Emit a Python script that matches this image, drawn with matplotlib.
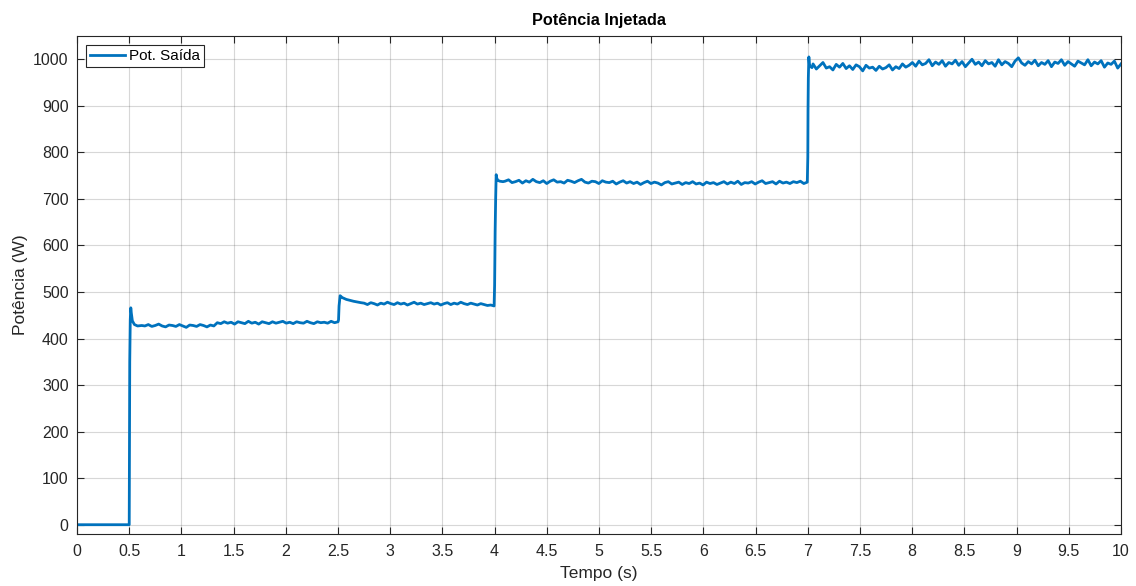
import numpy as np
import matplotlib

matplotlib.use("Agg")
import matplotlib.pyplot as plt
from matplotlib.ticker import FuncFormatter

# ---- data (W vs s) --------------------------------------------------------
t_start = [0.0, 0.5, 0.502, 0.505, 0.51, 0.515, 0.52, 0.53, 0.55, 0.58, 0.62]
p_start = [0, 0, 170, 350, 440, 466, 455, 438, 430, 427, 428]

# plateau 1 : 0.65 s -> 2.5 s
p_plat1 = [427, 430, 426, 428, 431, 427, 425, 429, 428, 426, 430, 427, 424,
           429, 428, 426, 430, 428, 425, 429, 427, 434, 432, 436, 433, 435,
           431, 436, 434, 432, 437, 433, 435, 431, 436, 434, 432, 436, 433,
           435, 437, 433, 435, 432, 436, 434, 433, 437, 434, 432, 436, 434,
           435, 433, 437, 434, 436]

t_step2 = [2.505, 2.51, 2.52, 2.54, 2.58, 2.65, 2.72]
p_step2 = [440, 470, 492, 488, 484, 480, 477]

# plateau 2 : 2.75 s -> 4.0 s
p_plat2 = [476, 473, 477, 475, 472, 476, 474, 478, 475, 473, 477, 474, 476,
           472, 475, 478, 474, 476, 473, 475, 477, 474, 476, 472, 475, 477,
           473, 476, 474, 478, 475, 473, 476, 474, 472, 475, 473, 471, 472, 470]

t_step3 = [4.0, 4.005, 4.01, 4.015, 4.02, 4.03, 4.05, 4.08]
p_step3 = [515, 630, 700, 752, 745, 740, 738, 737]

# plateau 3 : 4.1 s -> 7.0 s
p_plat3 = [738, 741, 735, 737, 740, 734, 739, 736, 742, 737, 735, 739, 733,
           738, 741, 736, 737, 734, 740, 738, 735, 739, 742, 736, 734, 738,
           737, 733, 739, 736, 735, 738, 732, 736, 739, 734, 737, 733, 736,
           731, 735, 738, 733, 736, 734, 730, 735, 737, 732, 734, 736, 731,
           735, 733, 737, 732, 734, 730, 736, 733, 735, 731, 734, 737, 732,
           736, 733, 738, 731, 735, 734, 737, 732, 736, 739, 733, 735, 737,
           732, 738, 734, 736, 733, 737, 735, 738, 733, 736]

t_step4 = [7.0, 7.002, 7.005, 7.01, 7.015, 7.02, 7.04]
p_step4 = [790, 890, 960, 1005, 990, 985, 982]

# plateau 4 : 7.05 s -> 10 s
p_plat4 = [990, 979, 986, 993, 981, 984, 977, 989, 983, 991, 980, 986, 978,
           988, 984, 975, 987, 981, 983, 976, 985, 979, 982, 988, 977, 984,
           980, 990, 983, 987, 993, 985, 996, 988, 991, 999, 986, 994, 989,
           997, 985, 993, 990, 998, 987, 995, 984, 992, 1000, 989, 994, 986,
           997, 990, 993, 985, 999, 988, 995, 991, 984, 996, 1003, 992, 987,
           995, 990, 998, 986, 993, 989, 997, 984, 994, 991, 999, 987, 995,
           990, 985, 996, 992, 988, 999, 986, 994, 990, 997, 983, 992, 989,
           996, 981, 990]

t = np.concatenate([
    t_start, np.linspace(0.65, 2.5, len(p_plat1)),
    t_step2, np.linspace(2.75, 3.995, len(p_plat2)),
    t_step3, np.linspace(4.1, 6.995, len(p_plat3)),
    t_step4, np.linspace(7.05, 10.0, len(p_plat4)),
])
p = np.concatenate([p_start, p_plat1, p_step2, p_plat2,
                    p_step3, p_plat3, p_step4, p_plat4])

# ---- figure ---------------------------------------------------------------
plt.rcParams["font.family"] = ["Liberation Sans", "DejaVu Sans"]
AX = "#262626"

fig = plt.figure(figsize=(11.36, 5.86), dpi=100)
ax = fig.add_axes([0.0678, 0.0887, 0.919, 0.8499])

ax.plot(t, p, color="#0072BD", lw=2.0, label="Pot. Saída")

ax.set_xlim(0, 10)
ax.set_ylim(-20, 1050)
ax.set_xticks(np.arange(0, 10.01, 0.5))
ax.set_yticks(np.arange(0, 1001, 100))
ax.xaxis.set_major_formatter(FuncFormatter(lambda v, _: f"{v:g}"))
ax.grid(True, color="#262626", alpha=0.18, lw=0.8)
ax.tick_params(direction="in", length=5, width=0.8, colors=AX, labelsize=11.5,
               top=True, right=True, labelcolor=AX)
ax.tick_params(axis="x", pad=7)
ax.tick_params(axis="y", pad=6)
for s in ax.spines.values():
    s.set_color(AX)
    s.set_linewidth(0.8)

ax.set_title("Potência Injetada", fontsize=11.7, fontweight="bold", color="black", pad=8)
ax.set_xlabel("Tempo (s)", fontsize=12.5, color=AX, labelpad=5)
ax.set_ylabel("Potência (W)", fontsize=12.5, color=AX, labelpad=4)

leg = ax.legend(loc="upper left", fontsize=11, frameon=True, fancybox=False,
                borderpad=0.25, handlelength=2.3, handletextpad=0.25,
                bbox_to_anchor=(0.0, 1.0), borderaxespad=0.6)
leg.get_frame().set_edgecolor(AX)
leg.get_frame().set_linewidth(0.8)
leg.get_frame().set_alpha(1)

fig.savefig("out.png", dpi=100, facecolor="white")
